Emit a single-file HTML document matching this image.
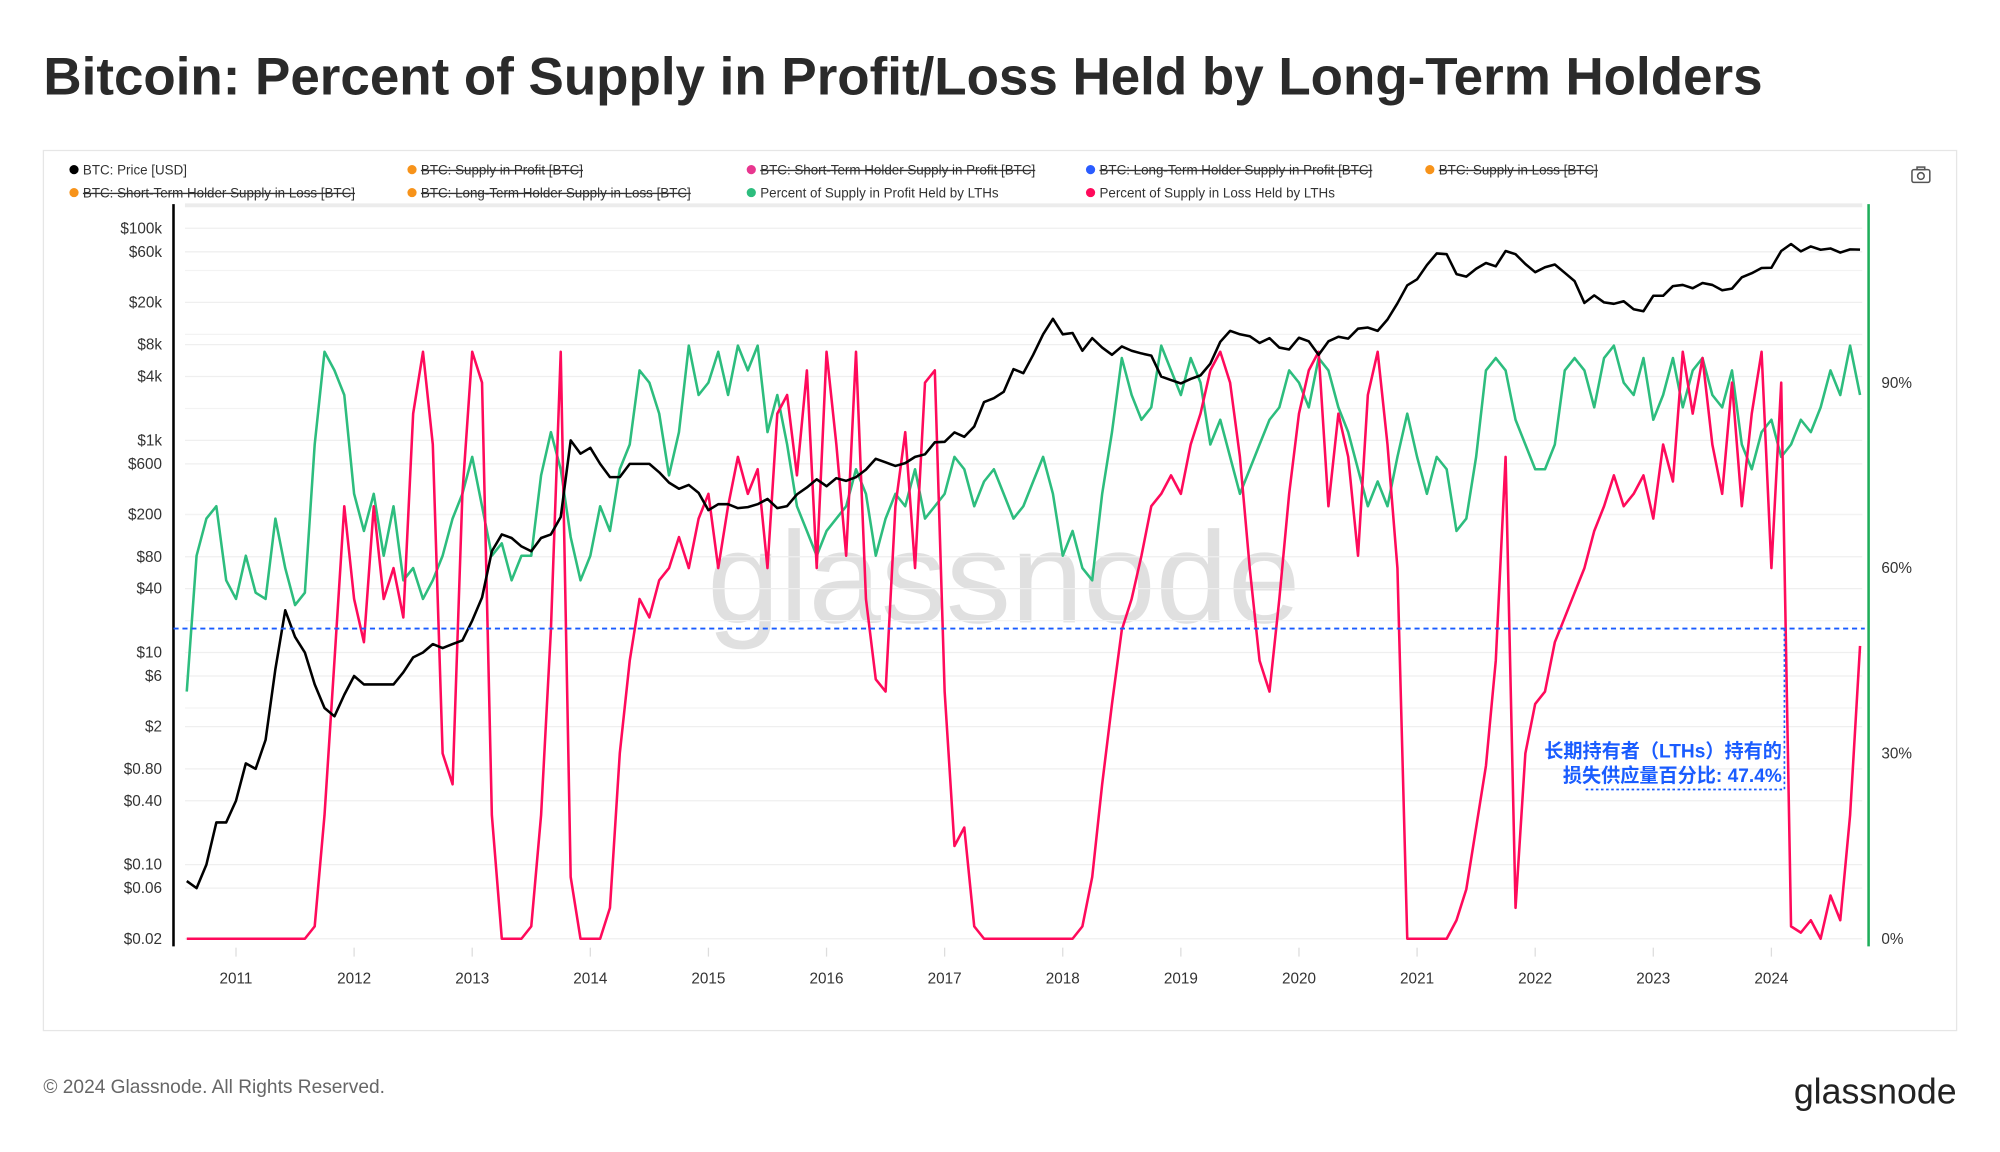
<!DOCTYPE html>
<html><head><meta charset="utf-8">
<style>
html,body{margin:0;padding:0;background:#fff;}
svg{display:block;font-family:"Liberation Sans","Noto Sans CJK SC",sans-serif;}
</style></head>
<body>
<svg id="chart" width="2000" height="1152" viewBox="0 0 1568 903.2" xmlns="http://www.w3.org/2000/svg">
<text x="34" y="74" font-size="41.5" font-weight="bold" fill="#2a2a2a">Bitcoin: Percent of Supply in Profit/Loss Held by Long-Term Holders</text>
<rect x="34" y="118" width="1500" height="690" fill="none" stroke="#e6e6e6" stroke-width="1"/>
<g id="legend" font-size="10.5" fill="#333"></g>
<g stroke="#555" fill="none" stroke-width="1.2">
<rect x="1499" y="133" width="14" height="10" rx="1.5"/><circle cx="1506" cy="138" r="2.6"/><rect x="1503" y="131" width="6" height="2"/>
</g>
<text x="787" y="488" text-anchor="middle" font-size="102" fill="#e0e0e0">glassnode</text>
<g id="grid"></g>
<line x1="145" y1="161" x2="1460" y2="161" stroke="#ececec" stroke-width="3"/>
<g id="series"></g>
<line x1="136" y1="160" x2="136" y2="742" stroke="#000" stroke-width="2"/>
<line x1="1465" y1="160" x2="1465" y2="742" stroke="#1fae5b" stroke-width="2"/>
<g id="yl" font-size="12" fill="#333" text-anchor="end"></g>
<g id="yr" font-size="12" fill="#333"></g>
<g id="xl" font-size="12" fill="#333" text-anchor="middle"></g>
<line x1="136" y1="492.8" x2="1462" y2="492.8" stroke="#1a5cff" stroke-width="1.5" stroke-dasharray="4,3"/>
<g>
<polyline points="1399,492.8 1399,619 1243,619" fill="none" stroke="#1a5cff" stroke-width="1.3" stroke-dasharray="2,2"/>
<text x="1397" y="594" text-anchor="end" font-size="15" font-weight="bold" fill="#1a5cff">长期持有者（LTHs）持有的</text>
<text x="1397" y="613" text-anchor="end" font-size="15" font-weight="bold" fill="#1a5cff">损失供应量百分比: 47.4%</text>
</g>
<text x="34" y="857" font-size="15" fill="#666">© 2024 Glassnode. All Rights Reserved.</text>
<text x="1534" y="865" text-anchor="end" font-size="28" fill="#222">glassnode</text>
</svg>
<script>
const startYear = 2010 + 7/12;
const prices = [0.07,0.06,0.1,0.25,0.25,
0.4,0.9,0.8,1.5,7,25,14,10,5,3,2.5,4,
6,5,5,5,5,6.5,9,10,12,11,12,13,
20,33,90,130,120,100,90,120,130,190,1000,750,
850,600,450,450,600,600,600,500,400,350,380,320,
220,250,250,230,235,250,280,230,240,310,360,430,
370,440,415,450,530,670,620,575,610,700,740,960,
970,1190,1080,1350,2300,2500,2870,4700,4300,6400,10000,14000,
10000,10300,7000,9200,7500,6400,7700,7000,6600,6300,4000,3700,
3450,3800,4100,5300,8500,10800,10000,9600,8300,9200,7500,7200,
9300,8600,6400,8600,9500,9100,11300,11600,10800,13800,19600,29000,
33000,45000,58000,57000,37000,35000,41500,47000,43800,61000,57000,46000,
38500,43000,45500,38000,31800,19800,23300,20000,19400,20500,17200,16500,
23100,23100,28500,29200,27200,30500,29200,26000,27000,34500,37700,42300,
42500,61000,71000,60600,67500,62700,64600,59000,63300,63000];
const profitPct = [40,62,68,70,58,
55,62,56,55,68,60,54,56,80,95,92,88,
72,66,72,62,70,58,60,55,58,62,68,72,
78,70,62,64,58,62,62,75,82,76,65,58,
62,70,66,76,80,92,90,85,75,82,96,88,
90,95,88,96,92,96,82,88,80,70,66,62,
66,68,70,76,72,62,68,72,70,76,68,70,
72,78,76,70,74,76,72,68,70,74,78,72,
62,66,60,58,72,82,94,88,84,86,96,92,
88,94,90,80,84,78,72,76,80,84,86,92,
90,86,94,92,86,82,76,70,74,70,78,85,
78,72,78,76,66,68,78,92,94,92,84,80,
76,76,80,92,94,92,86,94,96,90,88,94,
84,88,94,86,92,94,88,86,92,80,76,82,
84,78,80,84,82,86,92,88,96,88];
const lossPct = [0,0,0,0,0,
0,0,0,0,0,0,0,0,2,20,45,70,
55,48,70,55,60,52,85,95,80,30,25,72,
95,90,20,0,0,0,2,20,50,95,10,0,
0,0,5,30,45,55,52,58,60,65,60,68,
72,60,70,78,72,76,60,85,88,75,92,60,
95,80,62,95,55,42,40,70,82,60,90,92,
40,15,18,2,0,0,0,0,0,0,0,0,
0,0,2,10,25,38,50,55,62,70,72,75,
72,80,85,92,95,90,78,60,45,40,55,72,
85,92,95,70,85,78,62,88,95,80,60,0,
0,0,0,0,3,8,18,28,45,78,5,30,
38,40,48,52,56,60,66,70,75,70,72,75,
68,80,74,95,85,94,80,72,90,70,85,95,
60,90,2,1,3,0,7,3,20,47.4];
const priceTicks = [0.02,0.06,0.1,0.4,0.8,2,6,10,40,80,200,600,1000,4000,8000,20000,60000,100000];
const priceTickLabels = ["$0.02","$0.06","$0.10","$0.40","$0.80","$2","$6","$10","$40","$80","$200","$600","$1k","$4k","$8k","$20k","$60k","$100k"];
const pctTicks = [0,30,60,90];
const yearTicks = [2011,2012,2013,2014,2015,2016,2017,2018,2019,2020,2021,2022,2023,2024];

const NS = "http://www.w3.org/2000/svg";
function xS(t){ return 185 + (t-2011)*92.6; }
function yP(p){ return 736 - (Math.log10(p) + 1.69897)*83.15; }
function yR(v){ return 736 - v*4.844; }
function tAt(i){ return startYear + i/12; }
function mk(tag, attrs, parent){ const e=document.createElementNS(NS,tag); for(const k in attrs) e.setAttribute(k,attrs[k]); parent.appendChild(e); return e; }

const grid=document.getElementById('grid');
priceTicks.forEach((p)=>{
  const l=mk('line',{x1:145,x2:1460,y1:yP(p),y2:yP(p),stroke:'#efefef','stroke-width':1},grid);
  
  
});
[3,20,200,2000,10000,40000].forEach((p)=>{
  const l=mk('line',{x1:145,x2:1460,y1:yP(p),y2:yP(p),stroke:'#f3f3f3','stroke-width':1},grid);
  
  
});

const yl=document.getElementById('yl');
priceTicks.forEach((p,i)=>{
  const t=mk('text',{x:127,y:yP(p)+4},yl); t.textContent=priceTickLabels[i];
  
  
});
const yr=document.getElementById('yr');
pctTicks.forEach(v=>{
  const t=mk('text',{x:1475,y:yR(v)+4},yr); t.textContent=v+'%';
  
  
});
const xl=document.getElementById('xl');
yearTicks.forEach(y=>{
  const tk=mk('line',{x1:xS(y),x2:xS(y),y1:743,y2:750,stroke:'#ddd'},xl);
  
  
  const t=mk('text',{x:xS(y),y:771},xl); t.textContent=y;
  
  
});

const series=document.getElementById('series');
function path(vals, yf, color, name, w){
  const d=vals.map((v,i)=>(i?'L':'M')+xS(tAt(i)).toFixed(1)+','+yf(v).toFixed(1)).join(' ');
  const p=mk('path',{d:d,fill:'none',stroke:color,'stroke-width':w,'stroke-linejoin':'round'},series);
  
  
}
path(profitPct, yR, '#2dbd7e', 'profit-held-by-lth-line', 2);
path(lossPct, yR, '#ff0a5b', 'loss-held-by-lth-line', 2);
path(prices, yP, '#000', 'btc-price-line', 2);

const legend=document.getElementById('legend');
const legendItems=[
 ["BTC: Price [USD]","#000",55,133,false],
 ["BTC: Supply in Profit [BTC]","#f7931a",320,133,true],
 ["BTC: Short-Term Holder Supply in Profit [BTC]","#e8368f",586,133,true],
 ["BTC: Long-Term Holder Supply in Profit [BTC]","#2a5cff",852,133,true],
 ["BTC: Supply in Loss [BTC]","#f7931a",1118,133,true],
 ["BTC: Short-Term Holder Supply in Loss [BTC]","#f7931a",55,151,true],
 ["BTC: Long-Term Holder Supply in Loss [BTC]","#f7931a",320,151,true],
 ["Percent of Supply in Profit Held by LTHs","#2dbd7e",586,151,false],
 ["Percent of Supply in Loss Held by LTHs","#ff0a5b",852,151,false]];
legendItems.forEach(it=>{
  const g=mk('g',{},legend);
  
  
  mk('circle',{cx:it[2]+3,cy:it[3],r:3.6,fill:it[1]},g);
  const t=mk('text',{x:it[2]+10,y:it[3]+3.8,'text-decoration':it[4]?'line-through':'none'},g);
  t.textContent=it[0];
});
</script>
</body></html>
